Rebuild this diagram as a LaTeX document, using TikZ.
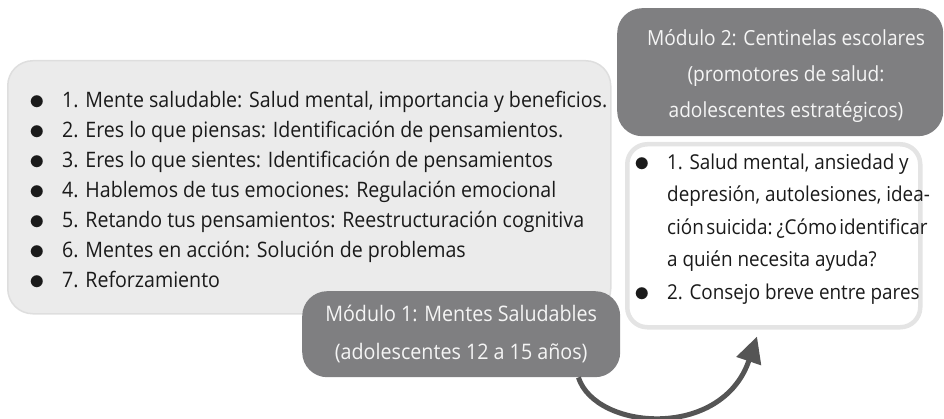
\documentclass[tikz,border=0pt]{standalone}
\usepackage{fontspec}
\setmainfont[FakeStretch=0.92]{Open Sans}
\usetikzlibrary{arrows.meta,calc}
\definecolor{lightfill}{RGB}{235,235,235}
\definecolor{lightline}{RGB}{222,222,222}
\definecolor{darkfill}{RGB}{127,127,129}
\definecolor{whiteline}{RGB}{228,228,228}
\definecolor{txt}{RGB}{26,26,26}
\definecolor{hdrtxt}{RGB}{245,245,245}
\definecolor{arrcol}{RGB}{85,85,85}
\newcommand{\mybul}[1]{\makebox[#1]{\raisebox{-0.1em}{\scalebox{1.5}{$\bullet$}}}}
\tikzset{
  lightbox/.style={draw=lightline, line width=1.5pt, fill=lightfill, rounded corners=25pt, inner sep=0pt, anchor=north west},
  darkbox/.style={fill=darkfill, draw=none, rounded corners=25pt, inner sep=0pt, anchor=north west},
  whitebox/.style={draw=whiteline, line width=4.5pt, fill=white, rounded corners=20pt, inner sep=0pt, anchor=north west},
  listtext/.style={anchor=base west, inner sep=0pt, text=txt, align=left},
  hdrtext/.style={inner sep=0pt, text=hdrtxt, align=center},
  arr/.style={draw=arrcol, line width=5pt, -{Triangle[length=26pt,width=25pt]}}
}
\begin{document}
\begin{tikzpicture}[x=1pt,y=-1pt]
\useasboundingbox (0,0) rectangle (944,419);
% boxes
\node[lightbox, minimum width=603pt, minimum height=253pt] (L) at (7,60) {};
\node[whitebox, minimum width=293pt, minimum height=183pt] (W) at (625,142) {};
\node[darkbox, minimum width=326pt, minimum height=128pt] (M2) at (617,8) {};
\node[darkbox, minimum width=318pt, minimum height=86pt] (M1) at (302,291) {};
% texts
\node[listtext, font=\fontsize{21.3}{30}\selectfont] (Ltext) at (29,107.5) {%
\begin{tabular}[t]{@{}l@{\hspace{17pt}}l@{}}
\mybul{16pt} & 1. Mente saludable: Salud mental, importancia y beneficios.\\
\mybul{16pt} & 2. Eres lo que piensas: Identificación de pensamientos.\\
\mybul{16pt} & 3. Eres lo que sientes: Identificación de pensamientos\\
\mybul{16pt} & 4. Hablemos de tus emociones: Regulación emocional\\
\mybul{16pt} & 5. Retando tus pensamientos: Reestructuración cognitiva\\
\mybul{16pt} & 6. Mentes en acción: Solución de problemas\\
\mybul{16pt} & 7. Reforzamiento
\end{tabular}};
\node[listtext, font=\fontsize{20.5}{32.5}\selectfont] (Wtext) at (635,169.5) {%
\begin{tabular}[t]{@{}l@{\hspace{18pt}}l@{}}
\mybul{14pt} & 1. Salud mental, ansiedad y\\
 & depresión, autolesiones, idea-\\
 & {\spaceskip=0.12em ción suicida: ¿Cómo identificar}\\
 & a quién necesita ayuda?\\
\mybul{14pt} & 2. Consejo breve entre pares
\end{tabular}};
\node[hdrtext, font=\fontsize{20.8}{36}\selectfont] (M2text) at (786,76) {Módulo 2: Centinelas escolares\\(promotores de salud:\\adolescentes estratégicos)};
\node[hdrtext, font=\fontsize{21.4}{38}\selectfont] (M1text) at (M1.center) {Módulo 1: Mentes Saludables\\(adolescentes 12 a 15 años)};
% connector
\draw[arr] ([xshift=-42pt]M1.south east) .. controls +(17,53) and +(-35,104) .. ($(W.south west)+(132,7)$);
\end{tikzpicture}
\end{document}
